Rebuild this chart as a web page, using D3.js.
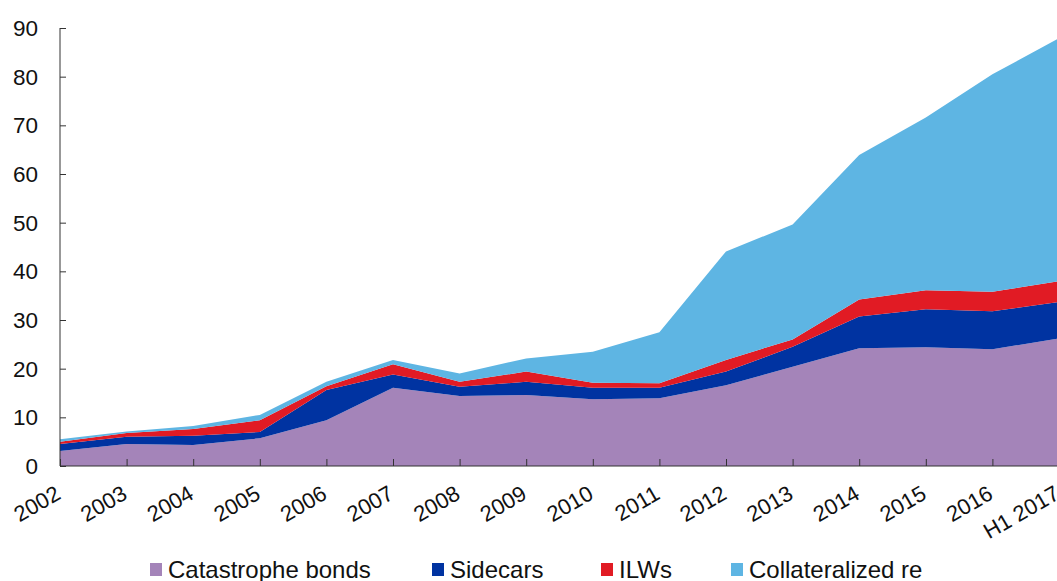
<!DOCTYPE html>
<html>
<head>
<meta charset="utf-8">
<script src="https://cdn.jsdelivr.net/npm/d3@7"></script>
<style>
  body { margin: 0; background: #fff; }
  svg { display: block; font-family: "Liberation Sans", Arial, sans-serif; }
</style>
</head>
<body>
<svg id="chart"></svg>
<script>
const width = 1057
const height = 581

const years = ["2002", "2003", "2004", "2005", "2006", "2007", "2008", "2009",
  "2010", "2011", "2012", "2013", "2014", "2015", "2016", "H1 2017"]

const catBonds = [3.1, 4.5, 4.3, 5.7, 9.4, 16.1, 14.4, 14.6, 13.7, 13.9, 16.6, 20.4, 24.2, 24.4, 24.0, 26.2]
const sidecars = [1.4, 1.5, 1.9, 1.3, 6.2, 2.7, 1.9, 2.7, 2.4, 2.2, 2.8, 4.1, 6.5, 7.8, 7.8, 7.5]
const ilws = [0.5, 0.8, 1.4, 2.4, 0.8, 2.1, 1.0, 2.1, 1.0, 0.9, 2.4, 1.5, 3.5, 3.9, 4.0, 4.3]
const collateralized = [0.5, 0.3, 0.6, 1.1, 0.9, 0.9, 1.7, 2.7, 6.4, 10.5, 22.3, 23.6, 29.7, 35.5, 44.7, 49.9]

const seriesNames = ["Catastrophe bonds", "Sidecars", "ILWs", "Collateralized re"]
const seriesKeys = ["cat", "side", "ilw", "coll"]
const colors = ["#a484b9", "#0033a1", "#e11b24", "#5eb5e3"]
const yTicks = [0, 10, 20, 30, 40, 50, 60, 70, 80, 90]

const rows = years.map((yr, i) => ({
  year: yr,
  cat: catBonds[i],
  side: sidecars[i],
  ilw: ilws[i],
  coll: collateralized[i]
}))

const svg = d3.select("#chart")
  .attr("width", width)
  .attr("height", height)

const x = d3.scalePoint().domain(years).range([60, 1059])
const y = d3.scaleLinear().domain([0, 90]).range([466, 28])

const stacked = d3.stack().keys(seriesKeys)(rows)

const area = d3.area()
  .x(d => x(d.data.year))
  .y0(d => y(d[0]))
  .y1(d => y(d[1]))

svg.append("g")
  .selectAll("path")
  .data(stacked)
  .join("path")
  .attr("d", area)
  .attr("fill", (d, i) => colors[i])

// y axis, ticks pointing inward
const yAxis = svg.append("g")
  .attr("transform", "translate(60,0)")
  .call(d3.axisRight(y).tickValues(yTicks).tickSize(6).tickFormat(""))
yAxis.select(".domain").attr("stroke", "#333").attr("d", `M0,${y(90)}V${y(0)}`)
yAxis.selectAll(".tick line").attr("stroke", "#333")

svg.append("g")
  .selectAll("text")
  .data(yTicks)
  .join("text")
  .attr("x", 38)
  .attr("y", d => y(d))
  .attr("dy", "0.36em")
  .attr("text-anchor", "end")
  .attr("font-size", 22.5)
  .attr("fill", "#111")
  .text(d => d)

// x axis, ticks pointing up
const xAxis = svg.append("g")
  .attr("transform", `translate(0,${y(0)})`)
  .call(d3.axisTop(x).tickSize(7).tickFormat(""))
xAxis.select(".domain").attr("stroke", "#333").attr("d", `M60,0H${width}`)
xAxis.selectAll(".tick line").attr("stroke", "#333")

svg.append("g")
  .selectAll("text")
  .data(years)
  .join("text")
  .attr("transform", d => `translate(${x(d) + 2},${y(0) + 32}) rotate(-30)`)
  .attr("text-anchor", "end")
  .attr("font-size", 22)
  .attr("fill", "#111")
  .text(d => d)

// legend
const legendX = [150, 432, 601, 731]
const legend = svg.append("g")
  .selectAll("g")
  .data(seriesNames)
  .join("g")
  .attr("transform", (d, i) => `translate(${legendX[i]},0)`)

legend.append("rect")
  .attr("x", 0)
  .attr("y", 563)
  .attr("width", 12)
  .attr("height", 13)
  .attr("fill", (d, i) => colors[i])

legend.append("text")
  .attr("x", 18)
  .attr("y", 578)
  .attr("font-size", 24)
  .attr("fill", "#111")
  .text(d => d)
</script>
</body>
</html>
